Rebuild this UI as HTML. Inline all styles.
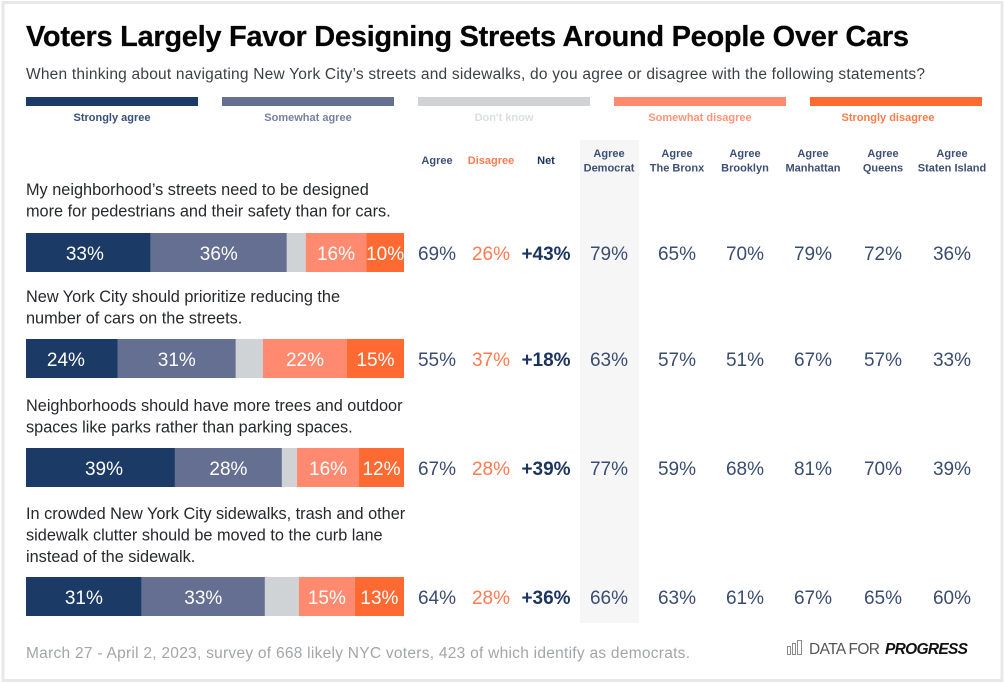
<!DOCTYPE html>
<html lang="en">
<head>
<meta charset="utf-8">
<title>Voters Largely Favor Designing Streets Around People Over Cars</title>
<style>
html,body{margin:0;padding:0;background:#fff;width:1004px;height:683px;overflow:hidden}
svg{display:block;font-family:"Liberation Sans",sans-serif}
</style>
</head>
<body>
<svg id="chart" xmlns="http://www.w3.org/2000/svg" width="1004" height="683" viewBox="0 0 1004 683">
  <rect x="3" y="2.5" width="999" height="678" fill="#fff" stroke="#e8e8e8" stroke-width="3"/>
  <text x="26" y="46" font-size="29" font-weight="700" fill="#050505" stroke="#050505" stroke-width="0.25" textLength="883">Voters Largely Favor Designing Streets Around People Over Cars</text>
  <text x="26" y="79" font-size="15.5" fill="#3c3f44" textLength="899">When thinking about navigating New York City’s streets and sidewalks, do you agree or disagree with the following statements?</text>
  <rect x="580" y="140" width="59" height="483" fill="#f6f6f6"/>
  <g id="legend"></g>
  <g id="headers"></g>
  <g id="rows"></g>
  <text x="26" y="658" font-size="15.5" fill="#a3a5a8" textLength="664">March 27 - April 2, 2023, survey of 668 likely NYC voters, 423 of which identify as democrats.</text>
  <g>
    <g fill="none" stroke="#8a8a8a" stroke-width="1">
      <rect x="787.5" y="646.5" width="3" height="8"/>
      <rect x="792.5" y="643.5" width="3" height="11"/>
      <rect x="797.5" y="640.5" width="4" height="14"/>
    </g>
    <text x="809" y="654" font-size="15.5" fill="#555" textLength="71">DATA FOR</text>
    <text x="885" y="654" font-size="15.5" font-weight="700" font-style="italic" fill="#111" textLength="83">PROGRESS</text>
  </g>
</svg>
<script>
const legendLabels = ["Strongly agree", "Somewhat agree", "Don't know", "Somewhat disagree", "Strongly disagree"];
const statements = [
  ["My neighborhood’s streets need to be designed", "more for pedestrians and their safety than for cars."],
  ["New York City should prioritize reducing the", "number of cars on the streets."],
  ["Neighborhoods should have more trees and outdoor", "spaces like parks rather than parking spaces."],
  ["In crowded New York City sidewalks, trash and other", "sidewalk clutter should be moved to the curb lane", "instead of the sidewalk."]
];
const stronglyAgree = [33, 24.3, 39.4, 30.6];
const somewhatAgree = [36, 31.2, 28.3, 32.6];
const dontKnow = [5, 7.2, 4, 9];
const somewhatDisagree = [16, 22.2, 16.4, 14.8];
const stronglyDisagree = [10, 15.1, 11.9, 13];
const agreeTotal = [69, 55, 67, 64];
const disagreeTotal = [26, 37, 28, 28];
const netAgree = [43, 18, 39, 36];
const agreeDemocrat = [79, 63, 77, 66];
const agreeBronx = [65, 57, 59, 63];
const agreeBrooklyn = [70, 51, 68, 61];
const agreeManhattan = [79, 67, 81, 67];
const agreeQueens = [72, 57, 70, 65];
const agreeStatenIsland = [36, 33, 39, 60];
const columnHeaders = [["Agree"], ["Disagree"], ["Net"], ["Agree", "Democrat"], ["Agree", "The Bronx"], ["Agree", "Brooklyn"], ["Agree", "Manhattan"], ["Agree", "Queens"], ["Agree", "Staten Island"]];

const NS = "http://www.w3.org/2000/svg";
const segmentColors = ["#1c3a66", "#646f91", "#d0d3d6", "#ff8a70", "#ff6a33"];
const legendTextColors = ["#3a4f78", "#7681a0", "#dcdedf", "#ff9478", "#ff7a48"];
const BAR_LEFT = 26, BAR_WIDTH = 378, BAR_HEIGHT = 39;

function xScale(pct) { return BAR_LEFT + pct / 100 * BAR_WIDTH; }
function statementBaseline(i) { return [195, 302, 411, 519][i]; }
function barTop(i) { return [233, 339, 448, 577][i]; }
function columnCenter(i) { return [437, 491, 546, 609, 677, 745, 813, 883, 952][i]; }
function legendLeft(i) { return 26 + i * 196; }
function legendLabelCenter(i) { return legendLeft(i) + 86 - (i === 4 ? 8 : 0); }
function firstLabelNudge(r) { return [-3.5, -6, 3.5, 0][r]; }

function svgEl(tag, attrs, text) {
  const el = document.createElementNS(NS, tag);
  for (const k in attrs) el.setAttribute(k, attrs[k]);
  if (text !== undefined) el.textContent = text;
  return el;
}

const legendGroup = document.getElementById("legend");
legendLabels.forEach(function (label, i) {
  const swatch = svgEl("rect", { x: legendLeft(i), y: 97, width: 172, height: 9, fill: segmentColors[i] });
  
  
  legendGroup.appendChild(swatch);
  const t = svgEl("text", { x: legendLabelCenter(i), y: 121, "font-size": 11, "font-weight": 700, "text-anchor": "middle", fill: legendTextColors[i] }, label);
  
  
  legendGroup.appendChild(t);
});

const headerGroup = document.getElementById("headers");
columnHeaders.forEach(function (lines, c) {
  lines.forEach(function (line, l) {
    const y = lines.length === 1 ? 164 : 157 + l * 14.5;
    const fill = c === 1 ? "#ff7a50" : (c === 2 ? "#1c3560" : "#3d4f75");
    const t = svgEl("text", { x: columnCenter(c), y: y, "font-size": 11, "font-weight": 700, "text-anchor": "middle", fill: fill }, line);
    
    
    headerGroup.appendChild(t);
  });
});

const rowsGroup = document.getElementById("rows");
const segmentSeries = [stronglyAgree, somewhatAgree, dontKnow, somewhatDisagree, stronglyDisagree];
const columnSeries = [agreeTotal, disagreeTotal, netAgree, agreeDemocrat, agreeBronx, agreeBrooklyn, agreeManhattan, agreeQueens, agreeStatenIsland];

statements.forEach(function (lines, r) {
  lines.forEach(function (line, l) {
    const t = svgEl("text", { x: 26, y: statementBaseline(r) + l * 21.5, "font-size": 16.3, fill: "#26282c" }, line);
    
    
    rowsGroup.appendChild(t);
  });

  let cumulative = 0;
  segmentSeries.forEach(function (series, s) {
    const v = series[r];
    const x0 = xScale(cumulative), x1 = xScale(cumulative + v);
    const seg = svgEl("rect", { x: x0, y: barTop(r), width: x1 - x0, height: BAR_HEIGHT, fill: segmentColors[s] });
    
    
    rowsGroup.appendChild(seg);
    if (s !== 2) {
      const nudge = s === 0 ? firstLabelNudge(r) : 0;
      const lab = svgEl("text", { x: (x0 + x1) / 2 + nudge, y: barTop(r) + 27, "font-size": 19, "text-anchor": "middle", fill: "#fff" }, Math.round(v) + "%");
      
      
      rowsGroup.appendChild(lab);
    }
    cumulative += v;
  });

  columnSeries.forEach(function (series, c) {
    const text = (c === 2 ? "+" : "") + series[r] + "%";
    const fill = c === 1 ? "#ff7a50" : (c === 2 ? "#1c3560" : "#3a4c72");
    const attrs = { x: columnCenter(c), y: barTop(r) + 27, "font-size": 19, "text-anchor": "middle", fill: fill };
    if (c === 2) attrs["font-weight"] = 700;
    const t = svgEl("text", attrs, text);
    
    
    rowsGroup.appendChild(t);
  });
});
</script>
</body>
</html>
